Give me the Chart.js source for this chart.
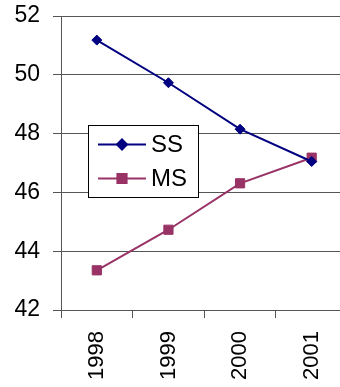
<!DOCTYPE html>
<html>
<head>
<meta charset="utf-8">
<script src="https://cdn.jsdelivr.net/npm/chart.js@4/dist/chart.umd.min.js"></script>
<style>
  html, body { margin: 0; padding: 0; background: #fff; overflow: hidden; }
  #wrap { width: 340px; height: 387px; overflow: hidden; }
  canvas { display: block; }
</style>
</head>
<body>
<div id="wrap"><canvas id="c" width="355" height="387"></canvas></div>
<script>
const years = ['1998', '1999', '2000', '2001'];
const ssValues = [51.18, 49.73, 48.15, 47.05];
const msValues = [43.35, 44.73, 46.31, 47.18];
const yMin = 42, yMax = 52, yStep = 2;

const FONT = '"Liberation Sans", Arial, sans-serif';
const AXIS = '#555555';

// Boxed legend drawn inside the plot area
const boxLegend = {
  id: 'boxLegend',
  afterDatasetsDraw(chart) {
    const ctx = chart.ctx;
    const x0 = 88.5, y0 = 125.5, w = 110, h = 72;
    ctx.save();
    ctx.fillStyle = '#ffffff';
    ctx.fillRect(x0, y0, w, h);
    ctx.strokeStyle = '#000000';
    ctx.lineWidth = 1;
    ctx.strokeRect(x0, y0, w, h);
    const rows = [144.5, 178.5];
    chart.data.datasets.forEach((ds, i) => {
      const y = rows[i];
      ctx.strokeStyle = ds.borderColor;
      ctx.lineWidth = 2;
      ctx.beginPath();
      ctx.moveTo(98, y);
      ctx.lineTo(146, y);
      ctx.stroke();
      Chart.helpers.drawPoint(ctx, {
        pointStyle: ds.pointStyle,
        radius: ds.pointRadius,
        borderWidth: 1
      }, 122, y);
      ctx.fillStyle = ds.pointBackgroundColor;
      ctx.strokeStyle = ds.pointBorderColor;
      ctx.fill();
      ctx.fillStyle = '#000000';
      ctx.font = '24px ' + FONT;
      ctx.textAlign = 'left';
      ctx.textBaseline = 'middle';
      ctx.fillText(ds.label, 151, y + 1);
    });
    ctx.restore();
  }
};

// Drop the automatic label overflow padding so the plot area is set by layout.padding
function noPad(scale) {
  scale.paddingTop = 0;
  scale.paddingBottom = 0;
  scale.paddingLeft = 0;
  scale.paddingRight = 0;
}

new Chart(document.getElementById('c'), {
  type: 'line',
  data: {
    labels: years,
    datasets: [
      {
        label: 'SS',
        data: ssValues,
        borderColor: '#000080',
        backgroundColor: '#000080',
        pointBackgroundColor: '#000080',
        pointBorderColor: '#000080',
        borderWidth: 2,
        pointStyle: 'rectRot',
        pointRadius: 5,
        pointBorderWidth: 1,
        tension: 0
      },
      {
        label: 'MS',
        data: msValues,
        borderColor: '#993366',
        backgroundColor: '#993366',
        pointBackgroundColor: '#993366',
        pointBorderColor: '#993366',
        borderWidth: 2,
        pointStyle: 'rect',
        pointRadius: 6.5,
        pointBorderWidth: 1,
        tension: 0
      }
    ]
  },
  options: {
    responsive: false,
    animation: false,
    layout: { padding: { top: 16, right: 2, left: 0, bottom: 0 } },
    plugins: {
      legend: { display: false },
      tooltip: { enabled: false }
    },
    scales: {
      x: {
        offset: true,
        grid: {
          offset: true,
          drawOnChartArea: false,
          drawTicks: true,
          tickLength: 8,
          color: AXIS
        },
        border: { display: true, color: AXIS, width: 1 },
        ticks: {
          minRotation: 90,
          maxRotation: 90,
          padding: 13,
          color: '#000000',
          font: { family: FONT, size: 22 }
        },
        afterFit(scale) { scale.height = 77; noPad(scale); }
      },
      y: {
        min: yMin,
        max: yMax,
        grid: {
          color: AXIS,
          drawTicks: true,
          tickLength: 8
        },
        border: { display: true, color: AXIS, width: 1 },
        ticks: {
          stepSize: yStep,
          padding: 13,
          color: '#000000',
          font: { family: FONT, size: 23 }
        },
        afterFit(scale) { scale.width = 61; noPad(scale); }
      }
    }
  },
  plugins: [boxLegend]
});
</script>
</body>
</html>
